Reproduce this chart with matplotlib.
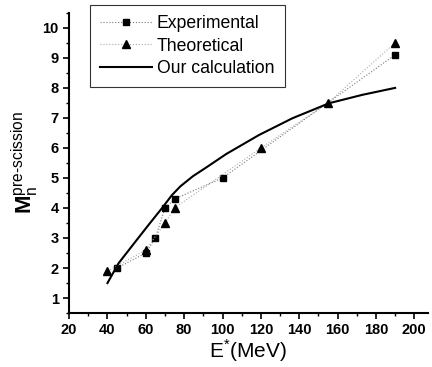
import matplotlib
matplotlib.use("Agg")
import matplotlib.pyplot as plt
from matplotlib.ticker import MultipleLocator

plt.rcParams['font.family'] = ['Liberation Sans', 'DejaVu Sans']
plt.rcParams['mathtext.fontset'] = 'custom'
plt.rcParams['mathtext.rm'] = 'Liberation Sans'
plt.rcParams['mathtext.bf'] = 'Liberation Sans:bold'

exp_x = [45, 60, 65, 70, 75, 100, 190]
exp_y = [2.0, 2.5, 3.0, 4.0, 4.3, 5.0, 9.1]
theo_x = [40, 60, 70, 75, 120, 155, 190]
theo_y = [1.9, 2.6, 3.5, 4.0, 6.0, 7.5, 9.5]
calc_x = [40, 45.8, 55.2, 62.1, 69, 73.5, 78, 84.6, 92, 102, 119, 136.5, 155.6, 173, 190]
calc_y = [1.5, 2.16, 2.93, 3.49, 4.04, 4.42, 4.72, 5.06, 5.37, 5.8, 6.43, 6.99, 7.49, 7.77, 8.0]

fig = plt.figure(figsize=(4.32, 3.67), dpi=100)
ax = fig.add_axes([0.16, 0.147, 0.83, 0.818])

ax.plot(exp_x, exp_y, linestyle=':', color='#777777', linewidth=0.8,
        marker='s', markersize=4, markerfacecolor='black', markeredgecolor='black',
        label='Experimental')
ax.plot(theo_x, theo_y, linestyle=':', color='#aaaaaa', linewidth=0.8,
        marker='^', markersize=6, markerfacecolor='black', markeredgecolor='black',
        label='Theoretical')
ax.plot(calc_x, calc_y, linestyle='-', color='black', linewidth=1.5,
        label='Our calculation')

ax.set_xlim(20, 207)
ax.set_ylim(0.5, 10.5)
ax.xaxis.set_major_locator(MultipleLocator(20))
ax.xaxis.set_minor_locator(MultipleLocator(10))
ax.yaxis.set_major_locator(MultipleLocator(1))
ax.yaxis.set_minor_locator(MultipleLocator(0.5))
ax.set_yticks(range(1, 11))

for s in ['top', 'right']:
    ax.spines[s].set_visible(False)
for s in ['left', 'bottom']:
    ax.spines[s].set_linewidth(1.5)
ax.tick_params(which='major', direction='out', length=4, width=1.2, labelsize=10.5)
ax.tick_params(which='minor', direction='out', length=2.5, width=1.0)
for lab in ax.get_xticklabels() + ax.get_yticklabels():
    lab.set_fontweight('bold')

ax.set_xlabel(r'E$^{*}$(MeV)', fontsize=15, labelpad=0)
ax.set_ylabel(r'$\mathbf{M}_{\mathrm{n}}^{\mathrm{pre\text{-}scission}}$', fontsize=16, labelpad=1)

leg = ax.legend(loc='upper left', bbox_to_anchor=(0.058, 1.027), borderaxespad=0,
                fontsize=12.7, frameon=True, fancybox=False, edgecolor='black',
                handlelength=2.9, handletextpad=0.3, borderpad=0.6, labelspacing=0.3)
leg.get_frame().set_linewidth(0.8)

fig.savefig('out.png', dpi=100)
